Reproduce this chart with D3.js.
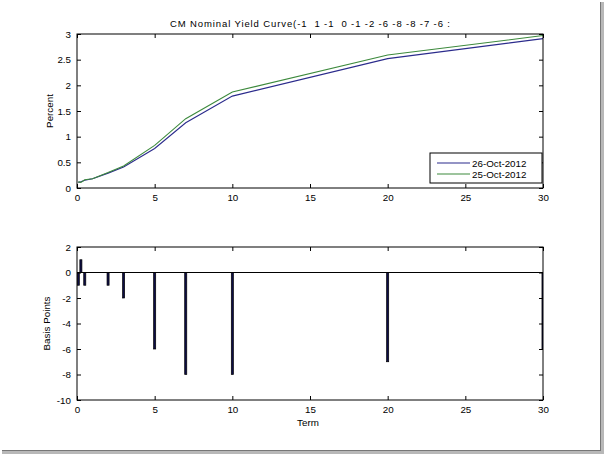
<!DOCTYPE html>
<html><head><meta charset="utf-8">
<script src="https://cdn.jsdelivr.net/npm/d3@7"></script>
<style>
html,body{margin:0;padding:0;background:#fff;}
svg{display:block;}
text{font-family:"Liberation Sans",Arial,Helvetica,sans-serif;fill:#000;}
</style></head><body>
<script>
// ---- data ----
const terms = [1/12, 0.25, 0.5, 1, 2, 3, 5, 7, 10, 20, 30];
const yield26 = [0.11, 0.12, 0.15, 0.18, 0.29, 0.41, 0.77, 1.27, 1.79, 2.52, 2.91];
const yield25 = [0.12, 0.11, 0.16, 0.18, 0.30, 0.43, 0.83, 1.35, 1.87, 2.59, 2.97];
const diffBp = [-1, 1, -1, 0, -1, -2, -6, -8, -8, -7, -6];
const seriesNames = ["26-Oct-2012", "25-Oct-2012"];
const xTicks = [0, 5, 10, 15, 20, 25, 30];
const topYTicks = [0, 0.5, 1, 1.5, 2, 2.5, 3];
const botYTicks = [-10, -8, -6, -4, -2, 0, 2];
const titleText = "CM Nominal Yield Curve(-1  1 -1  0 -1 -2 -6 -8 -8 -7 -6 :";

const W = 604, H = 454;
const colors = ["#2b2b8c", "#3d8a3d"];
const barColor = "#0c0c44";

const svg = d3.select("body").append("svg").attr("width", W).attr("height", H);

// frame shadow
svg.append("rect").attr("x", 600).attr("y", 2).attr("width", 4).attr("height", 452).attr("fill", "#b8b8b8");
svg.append("rect").attr("x", 2).attr("y", 450).attr("width", 602).attr("height", 4).attr("fill", "#b8b8b8");
svg.append("rect").attr("x", 600).attr("y", 2).attr("width", 1).attr("height", 449).attr("fill", "#777");
svg.append("rect").attr("x", 2).attr("y", 450).attr("width", 599).attr("height", 1).attr("fill", "#777");

const L = 77, R = 543;
const top1 = 34, bot1 = 188;
const top2 = 247, bot2 = 400;
const fs = 9.8;

const x1 = d3.scaleLinear().domain([0, 30]).range([L, R]);
const y1 = d3.scaleLinear().domain([0, 3]).range([bot1, top1]);
const y2 = d3.scaleLinear().domain([-10, 2]).range([bot2, top2]);

function frameAxes(g, x, y, xt, yt, yfmt) {
  const tl = 4;
  g.append("g").attr("transform", `translate(0,${y.range()[0]})`)
    .call(d3.axisBottom(x).tickValues(xt).tickSizeInner(-tl).tickSizeOuter(0).tickPadding(6).tickFormat(d3.format("d")));
  g.append("g").attr("transform", `translate(0,${y.range()[1]})`)
    .call(d3.axisTop(x).tickValues(xt).tickSizeInner(-tl).tickSizeOuter(0).tickFormat(""));
  g.append("g").attr("transform", `translate(${x.range()[0]},0)`)
    .call(d3.axisLeft(y).tickValues(yt).tickSizeInner(-tl).tickSizeOuter(0).tickPadding(6).tickFormat(yfmt));
  g.append("g").attr("transform", `translate(${x.range()[1]},0)`)
    .call(d3.axisRight(y).tickValues(yt).tickSizeInner(-tl).tickSizeOuter(0).tickFormat(""));
  g.selectAll(".domain").remove();
  g.selectAll(".tick line").attr("stroke", "#000").attr("stroke-width", 1);
  g.selectAll(".tick text").attr("font-size", fs).attr("font-family", '"Liberation Sans",Arial,sans-serif').attr("fill", "#000");
  g.append("rect").attr("x", x.range()[0]).attr("y", y.range()[1])
    .attr("width", x.range()[1] - x.range()[0]).attr("height", y.range()[0] - y.range()[1])
    .attr("fill", "none").attr("stroke", "#000").attr("stroke-width", 1);
}

// ---- top plot ----
const g1 = svg.append("g");
const line = d3.line().x((d, i) => x1(terms[i])).y(d => y1(d)).curve(d3.curveLinear);
[yield26, yield25].forEach((s, k) => {
  g1.append("path").datum(s).attr("d", line).attr("fill", "none")
    .attr("stroke", colors[k]).attr("stroke-width", 1.1);
});
frameAxes(g1, x1, y1, xTicks, topYTicks, d => d3.format("")(d));

svg.append("text").attr("x", (L + R) / 2).attr("y", 27).attr("text-anchor", "middle")
  .attr("font-size", 9.5).attr("textLength", 280).attr("lengthAdjust", "spacing")
  .attr("style", "white-space:pre").text(titleText);
svg.append("text").attr("transform", `translate(53,${(top1 + bot1) / 2}) rotate(-90)`)
  .attr("text-anchor", "middle").attr("font-size", fs).text("Percent");

// legend
const lg = svg.append("g");
lg.append("rect").attr("x", 430).attr("y", 153).attr("width", 112).attr("height", 30)
  .attr("fill", "#fff").attr("stroke", "#000").attr("stroke-width", 1);
seriesNames.forEach((n, k) => {
  const yy = 163 + k * 11;
  lg.append("line").attr("x1", 437).attr("x2", 470).attr("y1", yy).attr("y2", yy)
    .attr("stroke", colors[k]).attr("stroke-width", 1.1);
  lg.append("text").attr("x", 472).attr("y", yy + 3.5).attr("font-size", fs).text(n);
});

// ---- bottom plot ----
const g2 = svg.append("g");
svg.append("clipPath").attr("id", "clip2").append("rect")
  .attr("x", L).attr("y", top2).attr("width", R - L).attr("height", bot2 - top2);
const bw = (x1(0.8 * (terms[1] - terms[0])) - x1(0));
const bars = g2.append("g").attr("clip-path", "url(#clip2)");
bars.selectAll("rect").data(diffBp).join("rect")
  .attr("x", (d, i) => x1(terms[i]) - bw / 2)
  .attr("width", bw)
  .attr("y", d => Math.min(y2(d), y2(0)))
  .attr("height", d => Math.abs(y2(d) - y2(0)))
  .attr("fill", barColor).attr("stroke", "#000").attr("stroke-width", 0.7);
g2.append("line").attr("x1", L).attr("x2", R).attr("y1", y2(0)).attr("y2", y2(0))
  .attr("stroke", "#000").attr("stroke-width", 1);
frameAxes(g2, x1, y2, xTicks, botYTicks, d => d3.format("d")(d).replace("−", "-"));

svg.append("text").attr("x", 308).attr("y", 426).attr("text-anchor", "middle")
  .attr("font-size", fs).text("Term");
svg.append("text").attr("transform", `translate(50,${(top2 + bot2) / 2}) rotate(-90)`)
  .attr("text-anchor", "middle").attr("font-size", fs).text("Basis Points");
</script>
</body></html>
